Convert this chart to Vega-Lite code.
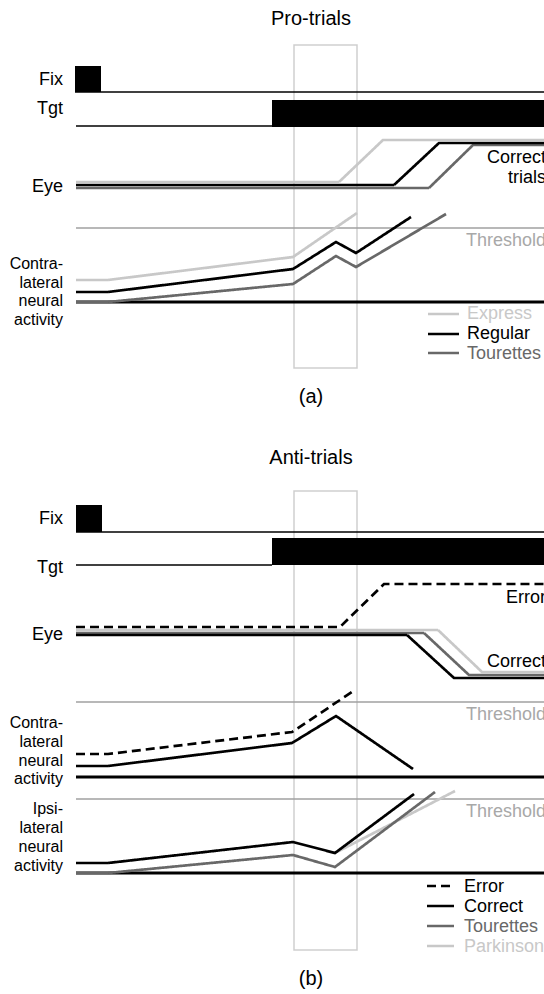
{
  "$schema": "https://vega.github.io/schema/vega-lite/v6.json",
  "description": "Fixation, target, eye position and neural activity traces for pro-trials and anti-trials",
  "width": 544,
  "height": 994,
  "padding": 0,
  "autosize": {"type": "none"},
  "background": "white",
  "config": {"view": {"stroke": null}, "font": "Liberation Sans"},
  "datasets": {
    "series": [
      {"id": "a-eye-Tourettes", "s": "Tourettes", "o": 0, "x": 76, "y": 188},
      {"id": "a-eye-Tourettes", "s": "Tourettes", "o": 1, "x": 429, "y": 188},
      {"id": "a-eye-Tourettes", "s": "Tourettes", "o": 2, "x": 473, "y": 145},
      {"id": "a-eye-Tourettes", "s": "Tourettes", "o": 3, "x": 544, "y": 145},
      {"id": "a-eye-Regular", "s": "Regular", "o": 0, "x": 76, "y": 185},
      {"id": "a-eye-Regular", "s": "Regular", "o": 1, "x": 394, "y": 185},
      {"id": "a-eye-Regular", "s": "Regular", "o": 2, "x": 439, "y": 143},
      {"id": "a-eye-Regular", "s": "Regular", "o": 3, "x": 544, "y": 143},
      {"id": "a-eye-Express", "s": "Express", "o": 0, "x": 76, "y": 182},
      {"id": "a-eye-Express", "s": "Express", "o": 1, "x": 339, "y": 182},
      {"id": "a-eye-Express", "s": "Express", "o": 2, "x": 383, "y": 140},
      {"id": "a-eye-Express", "s": "Express", "o": 3, "x": 544, "y": 140},

      {"id": "a-con-Express", "s": "Express", "o": 0, "x": 76, "y": 280},
      {"id": "a-con-Express", "s": "Express", "o": 1, "x": 108, "y": 280},
      {"id": "a-con-Express", "s": "Express", "o": 2, "x": 293, "y": 257},
      {"id": "a-con-Express", "s": "Express", "o": 3, "x": 357, "y": 213},
      {"id": "a-con-Regular", "s": "Regular", "o": 0, "x": 76, "y": 292},
      {"id": "a-con-Regular", "s": "Regular", "o": 1, "x": 108, "y": 292},
      {"id": "a-con-Regular", "s": "Regular", "o": 2, "x": 293, "y": 269},
      {"id": "a-con-Regular", "s": "Regular", "o": 3, "x": 336, "y": 242},
      {"id": "a-con-Regular", "s": "Regular", "o": 4, "x": 356, "y": 253},
      {"id": "a-con-Regular", "s": "Regular", "o": 5, "x": 411, "y": 217},
      {"id": "a-con-Tourettes", "s": "Tourettes", "o": 0, "x": 76, "y": 302},
      {"id": "a-con-Tourettes", "s": "Tourettes", "o": 1, "x": 108, "y": 302},
      {"id": "a-con-Tourettes", "s": "Tourettes", "o": 2, "x": 293, "y": 284},
      {"id": "a-con-Tourettes", "s": "Tourettes", "o": 3, "x": 336, "y": 256},
      {"id": "a-con-Tourettes", "s": "Tourettes", "o": 4, "x": 356, "y": 267},
      {"id": "a-con-Tourettes", "s": "Tourettes", "o": 5, "x": 446, "y": 214},

      {"id": "a-key-Express", "s": "Express", "o": 0, "x": 428, "y": 314},
      {"id": "a-key-Express", "s": "Express", "o": 1, "x": 459, "y": 314},
      {"id": "a-key-Regular", "s": "Regular", "o": 0, "x": 428, "y": 334},
      {"id": "a-key-Regular", "s": "Regular", "o": 1, "x": 459, "y": 334},
      {"id": "a-key-Tourettes", "s": "Tourettes", "o": 0, "x": 428, "y": 353},
      {"id": "a-key-Tourettes", "s": "Tourettes", "o": 1, "x": 459, "y": 353},

      {"id": "b-eye-Parkinson", "s": "Parkinson", "o": 0, "x": 76, "y": 630},
      {"id": "b-eye-Parkinson", "s": "Parkinson", "o": 1, "x": 438, "y": 630},
      {"id": "b-eye-Parkinson", "s": "Parkinson", "o": 2, "x": 482, "y": 672},
      {"id": "b-eye-Parkinson", "s": "Parkinson", "o": 3, "x": 544, "y": 672},
      {"id": "b-eye-Tourettes", "s": "Tourettes", "o": 0, "x": 76, "y": 633},
      {"id": "b-eye-Tourettes", "s": "Tourettes", "o": 1, "x": 424, "y": 633},
      {"id": "b-eye-Tourettes", "s": "Tourettes", "o": 2, "x": 469, "y": 675},
      {"id": "b-eye-Tourettes", "s": "Tourettes", "o": 3, "x": 544, "y": 675},
      {"id": "b-eye-Correct", "s": "Correct", "o": 0, "x": 76, "y": 635},
      {"id": "b-eye-Correct", "s": "Correct", "o": 1, "x": 407, "y": 635},
      {"id": "b-eye-Correct", "s": "Correct", "o": 2, "x": 454, "y": 678},
      {"id": "b-eye-Correct", "s": "Correct", "o": 3, "x": 544, "y": 678},
      {"id": "b-eye-Error", "s": "Error", "o": 0, "x": 76, "y": 627},
      {"id": "b-eye-Error", "s": "Error", "o": 1, "x": 340, "y": 627},
      {"id": "b-eye-Error", "s": "Error", "o": 2, "x": 384, "y": 584},
      {"id": "b-eye-Error", "s": "Error", "o": 3, "x": 544, "y": 584},

      {"id": "b-con-Error", "s": "Error", "o": 0, "x": 76, "y": 754},
      {"id": "b-con-Error", "s": "Error", "o": 1, "x": 108, "y": 754},
      {"id": "b-con-Error", "s": "Error", "o": 2, "x": 292, "y": 732},
      {"id": "b-con-Error", "s": "Error", "o": 3, "x": 355, "y": 690},
      {"id": "b-con-Correct", "s": "Correct", "o": 0, "x": 76, "y": 766},
      {"id": "b-con-Correct", "s": "Correct", "o": 1, "x": 108, "y": 766},
      {"id": "b-con-Correct", "s": "Correct", "o": 2, "x": 292, "y": 743},
      {"id": "b-con-Correct", "s": "Correct", "o": 3, "x": 336, "y": 716},
      {"id": "b-con-Correct", "s": "Correct", "o": 4, "x": 413, "y": 769},

      {"id": "b-ips-Parkinson", "s": "Parkinson", "o": 0, "x": 335, "y": 853},
      {"id": "b-ips-Parkinson", "s": "Parkinson", "o": 1, "x": 455, "y": 791},
      {"id": "b-ips-Tourettes", "s": "Tourettes", "o": 0, "x": 76, "y": 873},
      {"id": "b-ips-Tourettes", "s": "Tourettes", "o": 1, "x": 108, "y": 873},
      {"id": "b-ips-Tourettes", "s": "Tourettes", "o": 2, "x": 293, "y": 855},
      {"id": "b-ips-Tourettes", "s": "Tourettes", "o": 3, "x": 335, "y": 867},
      {"id": "b-ips-Tourettes", "s": "Tourettes", "o": 4, "x": 435, "y": 792},
      {"id": "b-ips-Correct", "s": "Correct", "o": 0, "x": 76, "y": 863},
      {"id": "b-ips-Correct", "s": "Correct", "o": 1, "x": 108, "y": 863},
      {"id": "b-ips-Correct", "s": "Correct", "o": 2, "x": 293, "y": 842},
      {"id": "b-ips-Correct", "s": "Correct", "o": 3, "x": 335, "y": 853},
      {"id": "b-ips-Correct", "s": "Correct", "o": 4, "x": 414, "y": 794},

      {"id": "b-key-Error", "s": "Error", "o": 0, "x": 427, "y": 886},
      {"id": "b-key-Error", "s": "Error", "o": 1, "x": 454, "y": 886},
      {"id": "b-key-Correct", "s": "Correct", "o": 0, "x": 427, "y": 906},
      {"id": "b-key-Correct", "s": "Correct", "o": 1, "x": 454, "y": 906},
      {"id": "b-key-Tourettes", "s": "Tourettes", "o": 0, "x": 427, "y": 926},
      {"id": "b-key-Tourettes", "s": "Tourettes", "o": 1, "x": 454, "y": 926},
      {"id": "b-key-Parkinson", "s": "Parkinson", "o": 0, "x": 427, "y": 946},
      {"id": "b-key-Parkinson", "s": "Parkinson", "o": 1, "x": 454, "y": 946}
    ],
    "rules": [
      {"k": "track", "x": 75, "x2": 544, "y": 92},
      {"k": "track", "x": 76, "x2": 272, "y": 126},
      {"k": "track", "x": 76, "x2": 544, "y": 532},
      {"k": "track", "x": 76, "x2": 272, "y": 565},
      {"k": "threshold", "x": 76, "x2": 544, "y": 228},
      {"k": "threshold", "x": 76, "x2": 544, "y": 702},
      {"k": "threshold", "x": 76, "x2": 544, "y": 799},
      {"k": "base", "x": 76, "x2": 544, "y": 302},
      {"k": "base", "x": 76, "x2": 544, "y": 777},
      {"k": "base", "x": 76, "x2": 544, "y": 873}
    ],
    "blocks": [
      {"k": "window", "x": 294, "x2": 357, "y": 45, "y2": 368},
      {"k": "window", "x": 294, "x2": 357, "y": 491, "y2": 950},
      {"k": "on", "x": 75, "x2": 101, "y": 66, "y2": 92},
      {"k": "on", "x": 272, "x2": 544, "y": 100, "y2": 127},
      {"k": "on", "x": 76, "x2": 102, "y": 505, "y2": 532},
      {"k": "on", "x": 272, "x2": 544, "y": 538, "y2": 565}
    ],
    "labels": [
      {"k": "c20", "s": "plain", "t": "Pro-trials", "x": 311, "y": 25},
      {"k": "c20", "s": "plain", "t": "(a)", "x": 311, "y": 403},
      {"k": "c20", "s": "plain", "t": "Anti-trials", "x": 311, "y": 464},
      {"k": "c20", "s": "plain", "t": "(b)", "x": 311, "y": 985},

      {"k": "r18", "s": "plain", "t": "Fix", "x": 63, "y": 85},
      {"k": "r18", "s": "plain", "t": "Tgt", "x": 63, "y": 114},
      {"k": "r18", "s": "plain", "t": "Eye", "x": 63, "y": 192},
      {"k": "r18", "s": "plain", "t": "Correct", "x": 546, "y": 163},
      {"k": "r18", "s": "plain", "t": "trials", "x": 546, "y": 183},
      {"k": "r18", "s": "Threshold", "t": "Threshold", "x": 546, "y": 246},
      {"k": "r18", "s": "plain", "t": "Fix", "x": 63, "y": 524},
      {"k": "r18", "s": "plain", "t": "Tgt", "x": 63, "y": 573},
      {"k": "r18", "s": "plain", "t": "Eye", "x": 63, "y": 640},
      {"k": "r18", "s": "plain", "t": "Error", "x": 546, "y": 603},
      {"k": "r18", "s": "plain", "t": "Correct", "x": 546, "y": 667},
      {"k": "r18", "s": "Threshold", "t": "Threshold", "x": 546, "y": 720},
      {"k": "r18", "s": "Threshold", "t": "Threshold", "x": 546, "y": 817},

      {"k": "r16", "s": "plain", "t": "Contra-", "x": 63, "y": 269},
      {"k": "r16", "s": "plain", "t": "lateral", "x": 63, "y": 287.5},
      {"k": "r16", "s": "plain", "t": "neural", "x": 63, "y": 306},
      {"k": "r16", "s": "plain", "t": "activity", "x": 63, "y": 325},
      {"k": "r16", "s": "plain", "t": "Contra-", "x": 63, "y": 728},
      {"k": "r16", "s": "plain", "t": "lateral", "x": 63, "y": 747},
      {"k": "r16", "s": "plain", "t": "neural", "x": 63, "y": 765.5},
      {"k": "r16", "s": "plain", "t": "activity", "x": 63, "y": 784},
      {"k": "r16", "s": "plain", "t": "Ipsi-", "x": 63, "y": 814},
      {"k": "r16", "s": "plain", "t": "lateral", "x": 63, "y": 833},
      {"k": "r16", "s": "plain", "t": "neural", "x": 63, "y": 852},
      {"k": "r16", "s": "plain", "t": "activity", "x": 63, "y": 871},

      {"k": "l18", "s": "Express", "t": "Express", "x": 467, "y": 319},
      {"k": "l18", "s": "Regular", "t": "Regular", "x": 467, "y": 339},
      {"k": "l18", "s": "Tourettes", "t": "Tourettes", "x": 467, "y": 359},
      {"k": "l18", "s": "Error", "t": "Error", "x": 464, "y": 892},
      {"k": "l18", "s": "Correct", "t": "Correct", "x": 464, "y": 912},
      {"k": "l18", "s": "Tourettes", "t": "Tourettes", "x": 464, "y": 932},
      {"k": "l18", "s": "Parkinson", "t": "Parkinson", "x": 464, "y": 952}
    ]
  },
  "encoding": {
    "x": {"field": "x", "type": "quantitative", "scale": {"domain": [0, 544], "nice": false, "zero": false}, "axis": null},
    "y": {"field": "y", "type": "quantitative", "scale": {"domain": [0, 994], "nice": false, "zero": false, "reverse": true}, "axis": null}
  },
  "layer": [
    {
      "data": {"name": "blocks"},
      "transform": [{"filter": "datum.k === 'window'"}],
      "mark": {"type": "rect", "fill": null, "fillOpacity": 0, "stroke": "#cfcfcf", "strokeWidth": 1.5},
      "encoding": {"x2": {"field": "x2"}, "y2": {"field": "y2"}}
    },
    {
      "data": {"name": "rules"},
      "transform": [{"filter": "datum.k === 'track'"}],
      "mark": {"type": "rule", "color": "#000000", "strokeWidth": 1.4},
      "encoding": {"x2": {"field": "x2"}}
    },
    {
      "data": {"name": "rules"},
      "transform": [{"filter": "datum.k === 'threshold'"}],
      "mark": {"type": "rule", "color": "#a0a0a0", "strokeWidth": 1.5},
      "encoding": {"x2": {"field": "x2"}}
    },
    {
      "data": {"name": "rules"},
      "transform": [{"filter": "datum.k === 'base'"}],
      "mark": {"type": "rule", "color": "#000000", "strokeWidth": 2.8},
      "encoding": {"x2": {"field": "x2"}}
    },
    {
      "data": {"name": "blocks"},
      "transform": [{"filter": "datum.k === 'on'"}],
      "mark": {"type": "rect", "color": "#000000"},
      "encoding": {"x2": {"field": "x2"}, "y2": {"field": "y2"}}
    },
    {
      "data": {"name": "series"},
      "mark": {"type": "line", "strokeWidth": 2.7, "strokeJoin": "miter", "strokeCap": "butt"},
      "encoding": {
        "detail": {"field": "id"},
        "order": {"field": "o", "type": "quantitative"},
        "color": {
          "field": "s", "type": "nominal", "legend": null,
          "scale": {
            "domain": ["Express", "Regular", "Tourettes", "Error", "Correct", "Parkinson", "plain", "Threshold"],
            "range": ["#c8c8c8", "#000000", "#686868", "#000000", "#000000", "#c8c8c8", "#000000", "#a8a8a8"]
          }
        },
        "strokeDash": {
          "field": "s", "type": "nominal", "legend": null,
          "scale": {
            "domain": ["Error", "Express", "Regular", "Tourettes", "Correct", "Parkinson"],
            "range": [[9, 5], [1, 0], [1, 0], [1, 0], [1, 0], [1, 0]]
          }
        }
      }
    },
    {
      "data": {"name": "labels"},
      "transform": [{"filter": "datum.k === 'c20'"}],
      "mark": {"type": "text", "align": "center", "baseline": "alphabetic", "fontSize": 20},
      "encoding": {"text": {"field": "t"}, "color": {"field": "s", "type": "nominal", "legend": null}}
    },
    {
      "data": {"name": "labels"},
      "transform": [{"filter": "datum.k === 'r18'"}],
      "mark": {"type": "text", "align": "right", "baseline": "alphabetic", "fontSize": 18},
      "encoding": {"text": {"field": "t"}, "color": {"field": "s", "type": "nominal", "legend": null}}
    },
    {
      "data": {"name": "labels"},
      "transform": [{"filter": "datum.k === 'r16'"}],
      "mark": {"type": "text", "align": "right", "baseline": "alphabetic", "fontSize": 16},
      "encoding": {"text": {"field": "t"}, "color": {"field": "s", "type": "nominal", "legend": null}}
    },
    {
      "data": {"name": "labels"},
      "transform": [{"filter": "datum.k === 'l18'"}],
      "mark": {"type": "text", "align": "left", "baseline": "alphabetic", "fontSize": 18},
      "encoding": {"text": {"field": "t"}, "color": {"field": "s", "type": "nominal", "legend": null}}
    }
  ],
  "resolve": {"scale": {"color": "shared"}}
}
